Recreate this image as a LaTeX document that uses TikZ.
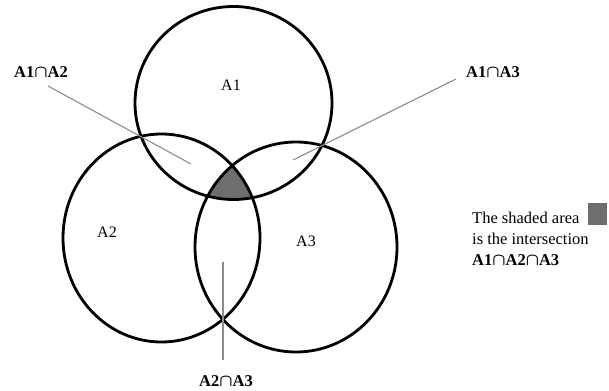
\documentclass[tikz,border=0pt]{standalone}
\usepackage{fontspec}
\setmainfont{Liberation Serif}
\begin{document}
\begin{tikzpicture}[x=1pt,y=-1pt,
  setline/.style={line width=2.8pt,black},
  leader/.style={line width=1.1pt,draw=black!45},
  setname/.style={font=\fontsize{16}{19}\selectfont,inner sep=0pt},
  interlabel/.style={font=\fontsize{16.5}{19}\selectfont\bfseries,inner sep=0pt},
  legendtext/.style={font=\fontsize{16.5}{19}\selectfont,inner sep=0pt,anchor=base west},
  shade/.style={fill=black!57}]
\useasboundingbox (0,0) rectangle (609,390);
% centres
\coordinate (c1) at (233.5,103);
\coordinate (c2) at (161.5,238);
\coordinate (c3) at (296,247);
% shaded triple intersection
\begin{scope}
  \clip (c1) ellipse [x radius=98.5, y radius=96.5];
  \clip (c2) ellipse [x radius=98.5, y radius=104];
  \fill[shade] (c3) ellipse [x radius=101, y radius=105];
\end{scope}
% sets
\draw[setline] (c1) ellipse [x radius=98.5, y radius=96.5];
\draw[setline] (c2) ellipse [x radius=98.5, y radius=104];
\draw[setline] (c3) ellipse [x radius=101, y radius=105];
% set names
\node[setname] (n1) at (231,85) {A1};
\node[setname] (n2) at (107,232) {A2};
\node[setname] (n3) at (306,241) {A3};
% intersection labels
\node[interlabel] (l12) at (41,72) {A1{\boldmath$\cap$}A2};
\node[interlabel] (l13) at (493,72) {A1{\boldmath$\cap$}A3};
\node[interlabel] (l23) at (226,381) {A2{\boldmath$\cap$}A3};
% leader lines
\coordinate (s12) at (48,86);
\coordinate (e12) at (191,164);
\coordinate (s13) at (456,79);
\coordinate (e13) at (293,160);
\coordinate (s23) at (223,360);
\coordinate (e23) at (223,262);
\draw[leader] (s12) -- (e12);
\draw[leader] (s13) -- (e13);
\draw[leader] (s23) -- (e23);
% legend
\node[legendtext] (t1) at (472,223) {The shaded area};
\node[legendtext] (t2) at (472,244) {is the intersection};
\node[legendtext,font=\fontsize{16.5}{19}\selectfont\bfseries] (t3) at (472,265) {A1{\boldmath$\cap$}A2{\boldmath$\cap$}A3};
\node[shade,minimum width=19pt,minimum height=22pt,inner sep=0pt,anchor=north west] (sq) at (588,203) {};
\end{tikzpicture}
\end{document}
